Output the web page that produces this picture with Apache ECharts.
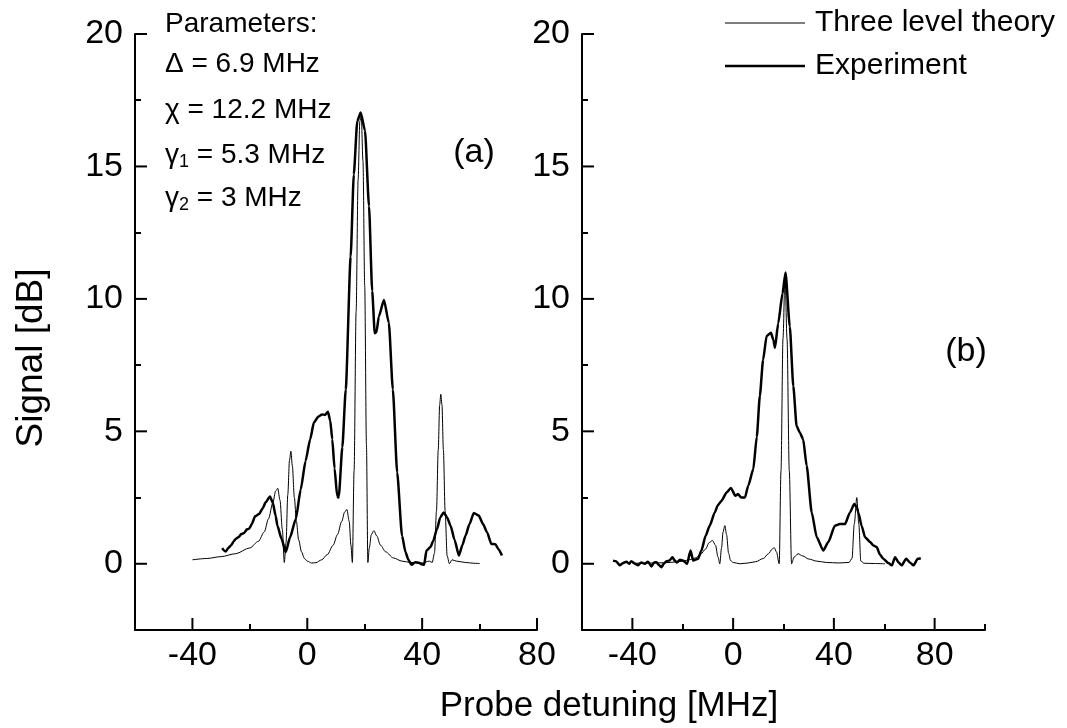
<!DOCTYPE html>
<html>
<head>
<meta charset="UTF-8">
<title>Probe detuning</title>
<script src="https://cdn.jsdelivr.net/npm/echarts@6/dist/echarts.min.js"></script>
<style>
  html, body { margin: 0; padding: 0; background: #fff; }
  #chart { width: 1067px; height: 728px; }
</style>
</head>
<body>
<div id="chart"></div>
<script type="text/javascript">
// panel (a) theory: detuning [MHz], signal [dB]
var theoryAX = [-40,-35,-30,-25,-20,-17,-15,-13.5,-12,-11,-10.3,-9.5,-8.7,-8,-7.4,-6.8,-6.2,-5.7,-5.2,-4.5,-3.8,-3,-2,-1,0,1.5,3,5,7,9,10.5,12,13,13.8,14.6,15.2,15.7,16.3,17,17.7,18.3,18.8,19.4,20,20.6,21.1,21.6,22.3,23.2,24.2,25.5,27.3,30,33,36,40,42.5,43.5,44.3,45,45.6,46.1,46.5,46.9,47.4,48,48.7,49.5,50.4,52,55,58,60];
var theoryAY = [0.15,0.2,0.27,0.38,0.6,0.85,1.2,1.7,2.3,2.75,2.85,2.4,1.3,0.05,0.8,2.6,3.9,4.25,3.7,2.5,1.6,0.9,0.45,0.2,0.1,0.03,0.04,0.15,0.35,0.7,1.1,1.6,1.95,2.05,1.6,0.7,0.05,3.5,9.5,14.5,16.7,16.9,15.2,10.5,4.5,0.05,0.6,1.1,1.25,1.05,0.7,0.45,0.22,0.1,0.05,0.03,0.1,0.05,0.4,2.0,4.3,6.0,6.4,6.0,4.3,2.0,0.3,0.0,0.15,0.1,0.05,0.02,0.01];

// panel (a) experiment
var exptAX = [-29.6,-29,-28.4,-27.5,-26.5,-25.6,-24.9,-24,-23,-22,-21,-20.3,-19.3,-18.2,-16.8,-15.5,-14.5,-13,-12,-11,-10.4,-9,-7.5,-6,-4,-2.3,-0.6,1,2.3,3.8,5.2,6.2,7.2,8,8.7,9.5,10.4,10.8,11,12.2,13.4,15.1,16.2,17.4,18.6,20.1,21.5,22.6,23.5,24.1,24.9,26.7,28.4,29.8,31.3,33,34.2,35.2,36.3,37.6,38.9,39.8,40.7,41.5,42.9,43.8,45.2,46.3,47.5,48.7,49.9,51.3,52.8,54,55.1,56.5,58,59.7,61.2,62.6,64.1,65.5,66.6,67.8];
var exptAY = [0.59,0.5,0.46,0.6,0.7,0.85,0.94,1.0,1.12,1.16,1.3,1.32,1.5,1.79,1.88,2.1,2.32,2.54,2.3,1.8,1.44,0.95,0.44,1.0,1.69,2.8,3.88,4.7,5.33,5.55,5.64,5.62,5.74,5.4,4.7,3.6,2.57,2.5,2.57,4.4,6.58,11.6,14.7,16.7,17.04,16.35,13.5,10.3,8.7,8.75,9.33,9.96,9.1,6.58,3.45,1.06,0.44,0.15,-0.04,0.06,0.04,-0.02,-0.04,0.5,0.63,0.85,1.32,1.75,1.94,1.75,1.44,0.9,0.31,0.7,1.06,1.5,1.92,1.82,1.5,1.19,0.75,0.74,0.55,0.31];

// panel (b) theory
var theoryBX = [-40,-30,-25,-20,-17,-15,-13,-11,-9.5,-8.2,-7,-6,-5.3,-4.6,-4,-3.3,-2.6,-1.8,-1,0,2.7,6,9,12,14,15.5,16.3,17.2,18.3,19,19.8,20.6,21.4,22.3,23.2,24.2,25.8,27.5,30,33.2,37,42,46,47.2,48.1,49.1,49.9,50.7,52,56,60.3];
var theoryBY = [0.02,0.03,0.05,0.1,0.16,0.22,0.35,0.55,0.8,0.88,0.7,0.25,0.0,0.6,1.2,1.44,1.1,0.4,0.12,0.05,0.0,0.03,0.08,0.2,0.38,0.55,0.61,0.45,0.0,3.5,8.5,10.9,8.5,3.5,0.0,0.25,0.38,0.3,0.18,0.1,0.05,0.03,0.05,0.2,1.5,2.5,1.5,0.1,0.02,0.01,0.0];

// panel (b) experiment
var exptBX = [-47.7,-46.5,-45,-43.8,-42.4,-41.3,-40.4,-39,-37.8,-36.5,-35.1,-33.8,-32.4,-31.4,-30.4,-29.5,-28.5,-27.5,-26.5,-25.3,-24.1,-23.2,-22.3,-21.1,-19.9,-18.3,-16.9,-15.9,-13.9,-12.6,-10.9,-9.3,-7.3,-6,-4.6,-2.6,-0.9,0.9,1.9,3.2,4.7,6,8,9.4,10.6,11.9,13.3,15,16,16.6,17.9,19.6,20.8,22.5,23.9,25.2,26.5,27.8,29.2,31.2,33.2,35.8,37.8,40.4,42.4,44.4,46.4,48.1,49.1,49.7,51,52.4,54.4,55.7,57,58.3,59.6,61.6,63,64.3,65.6,66.9,68.7,70.3,71.6,73.3,74.5];
var exptBY = [0.12,0.1,-0.06,0.02,0.08,0.0,0.1,0.0,-0.06,0.05,0.0,0.08,-0.1,0.05,0.06,-0.05,-0.13,0.0,0.1,0.12,0.25,0.12,0.05,0.15,0.12,0.0,0.5,0.12,0.19,0.5,1.06,1.44,1.94,2.22,2.38,2.69,2.86,2.57,2.63,2.5,2.5,2.95,3.57,4.8,6.33,7.7,8.6,8.72,8.45,8.15,9.08,10.2,11.0,8.96,6.7,5.2,4.95,4.7,3.7,1.94,1.0,0.5,0.82,1.44,1.5,1.5,1.94,2.26,2.13,1.94,1.44,1.0,0.82,0.69,0.63,0.35,0.19,0.03,-0.06,0.25,0.06,-0.06,0.19,0.04,-0.06,0.19,0.21];

// axis ranges and ticks
var xRangeA = [-60, 80];
var xRangeB = [-60, 100];
var yRange = [-2.5, 20];
var xMajor = [-40, 0, 40, 80];
var xMinorA = [-20, 20, 60];
var xMinorB = [-20, 20, 60, 100];
var yMajor = [0, 5, 10, 15, 20];
var yMinor = [2.5, 7.5, 12.5, 17.5];

var FONT = 'Liberation Sans, Arial, Helvetica, sans-serif';
var MAJOR_LEN = 12;

var gridA = { left: 135, top: 34, width: 402, height: 596 };
var gridB = { left: 582, top: 34, width: 403, height: 596 };

function pairs(xs, ys) {
	var out = [];
	for (var i = 0; i < xs.length; i++) out.push([xs[i], ys[i]]);
	return out;
}

// axis line + labels only
function baseX(grid, xr) {
	return {
		type: 'value', gridIndex: grid, position: 'bottom', min: xr[0], max: xr[1], interval: 20,
		axisLine: { show: true, onZero: false, lineStyle: { color: '#000', width: 2 } },
		axisTick: { show: false },
		axisLabel: { show: true, customValues: xMajor, margin: 9, color: '#000', fontSize: 34, fontFamily: FONT },
		splitLine: { show: false }
	};
}
function baseY(grid) {
	return {
		type: 'value', gridIndex: grid, position: 'left', min: yRange[0], max: yRange[1], interval: 2.5,
		axisLine: { show: true, onZero: false, lineStyle: { color: '#000', width: 2 } },
		axisTick: { show: false },
		axisLabel: { show: true, customValues: yMajor, margin: 12, color: '#000', fontSize: 34, fontFamily: FONT },
		splitLine: { show: false }
	};
}
// short minor ticks
function minorX(grid, xr, ticks) {
	return {
		type: 'value', gridIndex: grid, position: 'bottom', min: xr[0], max: xr[1], interval: 20,
		axisLine: { show: false, onZero: false },
		axisTick: { show: true, inside: true, length: 6, customValues: ticks, lineStyle: { color: '#000', width: 2 } },
		axisLabel: { show: false },
		splitLine: { show: false }
	};
}
function minorY(grid) {
	return {
		type: 'value', gridIndex: grid, position: 'left', min: yRange[0], max: yRange[1], interval: 2.5,
		axisLine: { show: false, onZero: false },
		axisTick: { show: true, inside: true, length: 6, customValues: yMinor, lineStyle: { color: '#000', width: 2 } },
		axisLabel: { show: false },
		splitLine: { show: false }
	};
}

function lineSeries(name, xi, data, width, smooth) {
	return {
		name: name, type: 'line', xAxisIndex: xi, yAxisIndex: xi,
		data: data, showSymbol: false, symbol: 'none', smooth: smooth, smoothMonotone: 'x',
		lineStyle: { color: '#000', width: width }, itemStyle: { color: '#000' },
		animation: false, z: width > 1 ? 3 : 4
	};
}

var subRich = {
	g: { fontSize: 28, lineHeight: 32, fontFamily: FONT, fill: '#000' },
	s: { fontSize: 18, lineHeight: 10, verticalAlign: 'bottom', fontFamily: FONT, fill: '#000' }
};

var chart = echarts.init(document.getElementById('chart'));
var option = {
	backgroundColor: '#fff',
	animation: false,
	grid: [gridA, gridB],
	xAxis: [
		baseX(0, xRangeA), minorX(0, xRangeA, xMinorA),
		baseX(1, xRangeB), minorX(1, xRangeB, xMinorB)
	],
	yAxis: [
		baseY(0), minorY(0),
		baseY(1), minorY(1)
	],
	legend: {
		orient: 'vertical', left: 725, top: 8, padding: 0,
		itemWidth: 80, itemHeight: 12, itemGap: 13,
		data: [
			{ name: 'Three level theory', icon: 'path://M0,0H80V1H0Z' },
			{ name: 'Experiment', icon: 'path://M0,0H80V2.5H0Z' }
		],
		itemStyle: { color: '#000' },
		textStyle: { color: '#000', fontSize: 30, fontFamily: FONT, padding: [0, 0, 0, 5] }
	},
	graphic: [
		{ id: 'p0', type: 'text', left: 165, top: 10, style: { text: 'Parameters:', fontSize: 28, fontFamily: FONT, fill: '#000' } },
		{ id: 'p1', type: 'text', left: 165, top: 50, style: { text: 'Δ = 6.9 MHz', fontSize: 28, fontFamily: FONT, fill: '#000' } },
		{ id: 'p2', type: 'text', left: 165, top: 96, style: { text: 'χ = 12.2 MHz', fontSize: 28, fontFamily: FONT, fill: '#000' } },
		{ id: 'p3', type: 'text', left: 165, top: 141, style: { text: '{g|γ}{s|1}{g| = 5.3 MHz}', rich: subRich } },
		{ id: 'p4', type: 'text', left: 165, top: 184, style: { text: '{g|γ}{s|2}{g| = 3 MHz}', rich: subRich } },
		{ id: 'la', type: 'text', x: 474, y: 153, style: { text: '(a)', fontSize: 34, fontFamily: FONT, fill: '#000', align: 'center', verticalAlign: 'middle' } },
		{ id: 'lb', type: 'text', x: 966, y: 352, style: { text: '(b)', fontSize: 34, fontFamily: FONT, fill: '#000', align: 'center', verticalAlign: 'middle' } },
		{ id: 'nx', type: 'text', x: 609, y: 706, style: { text: 'Probe detuning [MHz]', fontSize: 35, fontFamily: FONT, fill: '#000', align: 'center', verticalAlign: 'middle' } },
		{ id: 'ny', type: 'text', x: 32, y: 358, rotation: Math.PI / 2, style: { text: 'Signal [dB]', fontSize: 37, fontFamily: FONT, fill: '#000', align: 'center', verticalAlign: 'middle' } }
	],
	series: [
		lineSeries('Three level theory', 0, pairs(theoryAX, theoryAY), 1, 0.3),
		lineSeries('Experiment', 0, pairs(exptAX, exptAY), 2.5, 0.2),
		lineSeries('Three level theory', 2, pairs(theoryBX, theoryBY), 1, 0.3),
		lineSeries('Experiment', 2, pairs(exptBX, exptBY), 2.5, 0.2)
	]
};
chart.setOption(option);

// long major ticks, placed through the axes' own scales
function majorTicks(xi, xr, tag) {
	var els = [];
	var axisX = chart.convertToPixel({ xAxisIndex: xi }, xr[0]);
	var axisY = chart.convertToPixel({ yAxisIndex: xi }, yRange[0]);
	yMajor.forEach(function (v, i) {
		var py = chart.convertToPixel({ yAxisIndex: xi }, v);
		els.push({ id: tag + 'y' + i, type: 'line', z: 10, silent: true,
			shape: { x1: axisX, y1: py, x2: axisX + MAJOR_LEN, y2: py },
			style: { stroke: '#000', lineWidth: 2 } });
	});
	xMajor.forEach(function (v, i) {
		var px = chart.convertToPixel({ xAxisIndex: xi }, v);
		els.push({ id: tag + 'x' + i, type: 'line', z: 10, silent: true,
			shape: { x1: px, y1: axisY, x2: px, y2: axisY - MAJOR_LEN },
			style: { stroke: '#000', lineWidth: 2 } });
	});
	return els;
}
chart.setOption({ graphic: majorTicks(0, xRangeA, 'ta').concat(majorTicks(2, xRangeB, 'tb')) });
</script>
</body>
</html>
